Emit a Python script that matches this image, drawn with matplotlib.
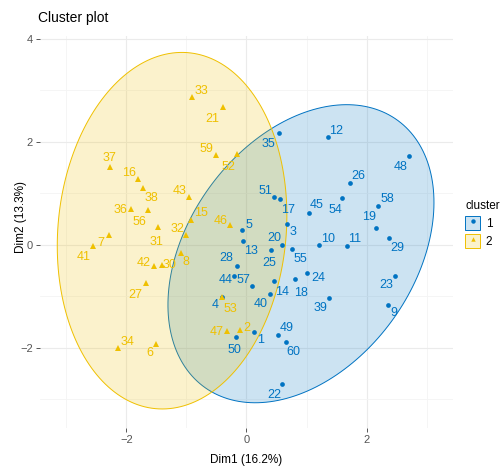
import numpy as np
import matplotlib
matplotlib.use('Agg')
import matplotlib.pyplot as plt
from matplotlib.patches import Polygon, Patch
from matplotlib.lines import Line2D
from matplotlib.legend_handler import HandlerTuple

plt.rcParams['font.family'] = ['Liberation Sans', 'DejaVu Sans']

# ---------------- data ----------------
ids_1 = [1, 3, 4, 5, 9, 10, 11, 12, 13, 14, 17, 18, 19, 20, 22, 23, 24, 25, 26, 28,
         29, 35, 39, 40, 44, 45, 48, 49, 50, 51, 54, 55, 57, 58, 60]
dim1_1 = [0.13, 0.67, -0.40, -0.07, 2.35, 1.21, 1.67, 1.35, -0.05, 0.45, 0.55, 0.80, 2.15, 0.59, 0.59, 2.48, 1.01, 0.41, 1.72, -0.16,
          2.37, 0.54, 1.38, 0.39, -0.20, 1.04, 2.71, 0.52, -0.18, 0.46, 1.59, 0.75, 0.09, 2.19, 0.65]
dim2_1 = [-1.70, 0.40, -1.01, 0.28, -1.17, 0.00, -0.03, 2.08, 0.07, -0.71, 0.88, -0.66, 0.33, -0.01, -2.71, -0.61, -0.55, -0.11, 1.20, -0.42,
          0.12, 2.17, -1.03, -0.95, -0.61, 0.62, 1.72, -1.76, -1.79, 0.92, 0.91, -0.09, -0.81, 0.75, -1.90]

ids_2 = [2, 6, 7, 8, 15, 16, 21, 27, 30, 31, 32, 33, 34, 36, 37, 38, 41, 42, 43, 46,
         47, 52, 53, 56, 59]
dim1_2 = [-0.11, -1.50, -2.29, -1.09, -0.93, -1.81, -0.39, -1.68, -1.41, -1.47, -1.00, -0.91, -2.14, -1.93, -2.28, -1.72, -2.55, -1.54, -0.95, -0.28,
          -0.32, -0.15, -0.40, -1.64, -0.51]
dim2_2 = [-1.65, -1.92, 0.18, -0.16, 0.47, 1.27, 2.68, -0.75, -0.40, 0.35, 0.18, 2.87, -2.00, 0.70, 1.50, 1.09, -0.03, -0.42, 0.93, 0.39,
          -1.67, 1.75, -1.01, 0.67, 1.74]

x_ticks = [-2, 0, 2]
y_ticks = [-2, 0, 2, 4]
title = "Cluster plot"
x_label = "Dim1 (16.2%)"
y_label = "Dim2 (13.3%)"
cluster_names = ["1", "2"]

# ---------------- layout / style ----------------
colors = ["#0073C2", "#EFC000"]
markers = ["o", "^"]
# label offsets in pixels (dx right, dy down) -- repelled text placement
label_off = {
    1: (6, 8), 3: (6, 8), 4: (-7, 8), 5: (7, -5), 9: (6, 8), 10: (9, -6), 11: (8, -7), 12: (9, -6),
    13: (8, 10), 14: (9, 11), 17: (9, 11), 18: (6, 14), 19: (-6, -11), 20: (-8, -7), 22: (-8, 11),
    23: (-9, 9), 24: (11, 5), 25: (-2, 13), 26: (9, -7), 28: (-11, -8), 29: (9, 10), 35: (-10, 11),
    39: (-9, 10), 40: (-9, 10), 44: (-9, 4), 45: (8, -8), 48: (-9, 11), 49: (9, -7), 50: (-1, 13),
    51: (-9, -6), 54: (-6, 12), 55: (9, 10), 57: (-8, -6), 58: (9, -7), 60: (8, 10),
    2: (7, -2), 6: (-7, 9), 7: (-8, 8), 8: (5, 9), 15: (10, -7), 16: (-9, -6), 21: (-11, 12),
    27: (-10, 12), 30: (8, 0), 31: (-2, 15), 32: (-9, -6), 33: (10, -6), 34: (9, -6), 36: (-10, 1),
    37: (0, -9), 38: (8, 10), 41: (-10, 11), 42: (-10, -3), 43: (-10, -6), 46: (-9, -4), 47: (-11, 1),
    52: (-9, 13), 53: (8, 12), 56: (-9, 12), 59: (-9, -6),
}

W, H = 500, 469
fig = plt.figure(figsize=(W / 100, H / 100), dpi=100)
ax = fig.add_axes([40 / W, 1 - 428 / H, (453 - 40) / W, (428 - 36) / H])
ax.set_xlim(-3.44, 3.44)
ax.set_ylim(-3.56, 4.05)


def norm_ellipse(x, y, level=0.95, npts=200):
    pts = np.column_stack([x, y])
    n = len(pts)
    center = pts.mean(axis=0)
    cov = np.cov(pts, rowvar=False)
    d = n - 1
    fq = (d / 2.0) * ((1 - level) ** (-2.0 / d) - 1)
    r = np.sqrt(2 * fq)
    vals, vecs = np.linalg.eigh(cov)
    t = np.linspace(0, 2 * np.pi, npts)
    circ = np.vstack([np.cos(t), np.sin(t)])
    ell = (vecs @ np.diag(np.sqrt(vals)) @ circ) * r
    return (ell.T + center)


groups = [(ids_1, dim1_1, dim2_1), (ids_2, dim1_2, dim2_2)]

for k, (ids, xs, ys) in enumerate(groups):
    e = norm_ellipse(xs, ys)
    c = matplotlib.colors.to_rgb(colors[k])
    ax.add_patch(Polygon(e, closed=True, facecolor=(*c, 0.2), edgecolor=colors[k],
                         lw=0.7, zorder=2))

for k, (ids, xs, ys) in enumerate(groups):
    ax.plot(xs, ys, ls='', marker=markers[k], color=colors[k],
            ms=3.4 if k == 0 else 3.8, mew=0, zorder=4)
    for i, x, y in zip(ids, xs, ys):
        dx, dy = label_off.get(i, (0, -8))
        ax.annotate(str(i), (x, y), xytext=(dx, -dy), textcoords='offset pixels',
                    ha='center', va='center', fontsize=9, color=colors[k], zorder=5)

# grid & axes styling (theme_minimal-like)
ax.set_xticks(x_ticks)
ax.set_yticks(y_ticks)
ax.set_xticks([-3, -1, 1, 3], minor=True)
ax.set_yticks([-3, -1, 1, 3], minor=True)
ax.grid(True, which='major', color='#EBEBEB', lw=0.8)
ax.grid(True, which='minor', color='#F4F4F4', lw=0.6)
ax.set_axisbelow(True)
for s in ax.spines.values():
    s.set_visible(False)
ax.tick_params(which='major', length=3, width=0.7, color='#555555',
               labelcolor='#555555', labelsize=8, pad=2)
ax.tick_params(which='minor', length=0)

fig.text(38 / W, 1 - 18 / H, title, fontsize=10, ha='left', va='center', color='black')
fig.text(246.5 / W, 1 - 460 / H, x_label, fontsize=8.5, ha='center', va='center')
fig.text(21 / W, 1 - 217 / H, y_label, fontsize=8.5, ha='center', va='center', rotation=90)

handles = []
for k in range(2):
    c = matplotlib.colors.to_rgb(colors[k])
    handles.append((Patch(facecolor=(*c, 0.2), edgecolor=colors[k], lw=0.7),
                    Line2D([], [], ls='', marker=markers[k], color=colors[k], ms=3.2, mew=0)))
leg = fig.legend(handles, cluster_names, title="cluster", loc='upper left',
                 bbox_to_anchor=(464 / W, 1 - 199 / H), frameon=False,
                 handler_map={tuple: HandlerTuple(ndivide=1, pad=0)},
                 fontsize=8.5, title_fontsize=8.5, handlelength=1.25, handleheight=1.45,
                 labelspacing=0.32, handletextpad=0.5, borderpad=0.1, borderaxespad=0)
leg._legend_box.align = "left"

fig.savefig("out.png", dpi=100)
